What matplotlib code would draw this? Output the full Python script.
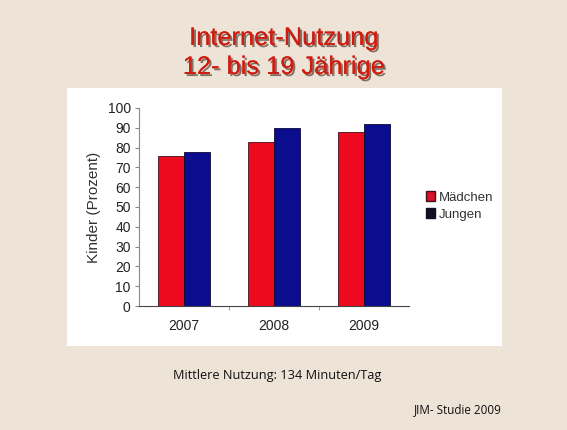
import numpy as np
import matplotlib.pyplot as plt
import matplotlib.patheffects as pe
from matplotlib.patches import Rectangle, Patch

plt.rcParams['font.family'] = ['Liberation Sans', 'DejaVu Sans']

# data
years = ['2007', '2008', '2009']
maedchen = [76, 83, 88]
jungen = [78, 90, 92]
yticks = list(range(0, 101, 10))

W, H = 567, 430
fig = plt.figure(figsize=(W / 100, H / 100), dpi=100)
fig.patch.set_facecolor('#ede3d6')

# white chart panel
fig.patches.append(Rectangle((67 / W, 1 - 346 / H), 435 / W, 258 / H,
                             transform=fig.transFigure, facecolor='white',
                             edgecolor='none', zorder=0))

# title with shadow
shadow = [pe.withSimplePatchShadow(offset=(1.5, -1.5), shadow_rgbFace='#3a2418', alpha=0.6), pe.Normal()]
fig.text(284 / W, 1 - 38 / H, 'Internet-Nutzung', ha='center', va='center',
         fontsize=18.3, color='#d01c10', path_effects=shadow)
fig.text(284 / W, 1 - 67 / H, '12- bis 19 Jährige', ha='center', va='center',
         fontsize=18.3, color='#d01c10', path_effects=shadow)

ax = fig.add_axes([139 / W, 1 - 306 / H, 270 / W, 198 / H])
ax.set_zorder(2)
ax.set_facecolor('none')
x = np.arange(len(years))
bw = 0.285
ax.bar(x - bw / 2, maedchen, bw, color='#ee0a1e', edgecolor='#40101a', linewidth=0.6, label='Mädchen')
ax.bar(x + bw / 2, jungen, bw, color='#0c0c8e', edgecolor='#0a0a30', linewidth=0.6, label='Jungen')

ax.set_xlim(-0.5, len(years) - 0.5)
ax.set_ylim(0, 100)
ax.set_yticks(yticks)
ax.set_xticks(x)
ax.set_xticklabels(years)
ax.set_xticks(np.arange(len(years) - 1) + 0.5, minor=True)
ax.tick_params(axis='x', which='major', length=0, pad=9, labelsize=10, labelcolor='#222222')
ax.tick_params(axis='x', which='minor', length=3, color='#888888')
ax.tick_params(axis='y', length=3, color='#888888', labelsize=10, labelcolor='#222222', pad=3)
for s in ['top', 'right']:
    ax.spines[s].set_visible(False)
ax.spines['left'].set_color('#888888')
ax.spines['bottom'].set_color('#444444')
ax.set_ylabel('Kinder (Prozent)', fontsize=11, color='#333333', labelpad=5)

handles = [Patch(facecolor='#d8102a', edgecolor='#40101a'),
           Patch(facecolor='#101020', edgecolor='#101020')]
leg = fig.legend(handles, ['Mädchen', 'Jungen'], loc='center left',
                 bbox_to_anchor=(414 / W, 1 - 206 / H), frameon=False,
                 fontsize=9.5, handlelength=0.7, handleheight=0.7,
                 handletextpad=0.25, labelspacing=0.35, labelcolor='#333333')
leg.set_zorder(3)

fig.text(277 / W, 1 - 376 / H, 'Mittlere Nutzung: 134 Minuten/Tag', ha='center', va='center',
         fontsize=9.2, color='#111111', family=['Open Sans', 'DejaVu Sans'])
fig.text(414 / W, 1 - 410 / H, 'JIM- Studie 2009', ha='left', va='center',
         fontsize=8.4, color='#111111', family=['Open Sans', 'DejaVu Sans'])

fig.savefig('out.png', dpi=100, facecolor=fig.get_facecolor())
